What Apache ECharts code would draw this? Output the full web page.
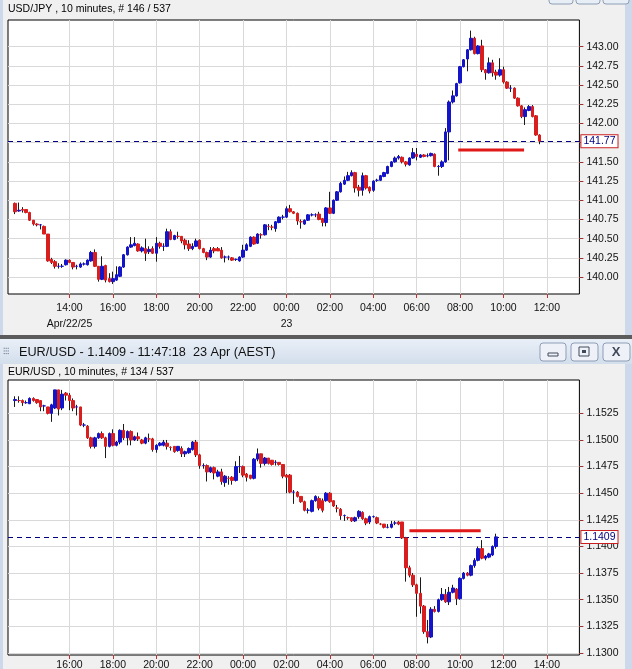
<!DOCTYPE html>
<html><head><meta charset="utf-8">
<script src="https://cdn.jsdelivr.net/npm/echarts@6/dist/echarts.min.js"></script>
<style>html,body{margin:0;padding:0;background:#f0f0f0;overflow:hidden}#c{width:632px;height:669px}</style>
</head><body><div id="c"></div>
<script>
// ---------- DATA ----------
// slot index k = 10-minute steps from 14:00 Apr 22 (USD/JPY) ; from 16:00 Apr 22 (EUR/USD)
var usdjpyFirstSlot = -15;
// [open, close, low, high]
var usdjpyOHLC = [
[140.96,140.85,140.82,140.97],[140.86,140.87,140.85,140.97],[140.88,140.87,140.84,140.91],[140.88,140.84,140.83,140.88],
[140.84,140.74,140.73,140.85],[140.74,140.69,140.67,140.74],[140.69,140.68,140.66,140.70],[140.68,140.68,140.62,140.69],
[140.66,140.56,140.56,140.67],[140.56,140.21,140.20,140.56],[140.23,140.19,140.17,140.25],[140.20,140.14,140.11,140.22],
[140.14,140.14,140.11,140.18],[140.14,140.14,140.12,140.17],[140.16,140.22,140.15,140.23],[140.22,140.19,140.18,140.23],
[140.19,140.13,140.10,140.19],[140.14,140.14,140.10,140.16],[140.13,140.17,140.12,140.19],[140.17,140.17,140.15,140.19],
[140.16,140.22,140.15,140.23],[140.21,140.32,140.20,140.34],[140.32,140.14,140.13,140.36],[140.14,139.97,139.94,140.14],
[139.97,140.14,139.96,140.27],[140.15,139.96,139.93,140.16],[139.98,139.94,139.93,140.05],[139.94,139.98,139.91,140.07],
[139.96,140.03,139.95,140.14],[140.01,140.13,140.00,140.14],[140.13,140.29,140.12,140.30],[140.29,140.39,140.28,140.40],
[140.39,140.42,140.38,140.52],[140.41,140.44,140.40,140.52],[140.43,140.34,140.33,140.44],[140.34,140.38,140.32,140.40],
[140.37,140.31,140.21,140.50],[140.33,140.36,140.30,140.40],[140.37,140.31,140.30,140.40],[140.31,140.44,140.20,140.52],
[140.44,140.40,140.37,140.46],[140.40,140.40,140.34,140.44],[140.40,140.59,140.39,140.63],[140.59,140.49,140.48,140.62],
[140.49,140.54,140.48,140.55],[140.53,140.53,140.50,140.59],[140.53,140.47,140.44,140.53],[140.48,140.42,140.36,140.50],
[140.43,140.37,140.34,140.48],[140.37,140.40,140.35,140.44],[140.40,140.47,140.39,140.50],[140.48,140.37,140.36,140.49],
[140.37,140.32,140.31,140.38],[140.32,140.26,140.22,140.33],[140.26,140.35,140.25,140.39],[140.37,140.34,140.31,140.39],
[140.37,140.34,140.34,140.39],[140.35,140.25,140.24,140.39],[140.26,140.26,140.19,140.28],[140.26,140.26,140.22,140.28],
[140.25,140.22,140.21,140.26],[140.23,140.23,140.21,140.24],[140.21,140.26,140.20,140.27],[140.26,140.35,140.25,140.42],
[140.35,140.42,140.34,140.44],[140.40,140.52,140.39,140.53],[140.52,140.43,140.42,140.53],[140.44,140.56,140.43,140.57],
[140.55,140.55,140.50,140.57],[140.55,140.68,140.54,140.69],[140.66,140.66,140.61,140.69],[140.65,140.65,140.61,140.68],
[140.63,140.72,140.59,140.73],[140.71,140.78,140.70,140.79],[140.78,140.78,140.75,140.81],[140.78,140.89,140.77,140.92],
[140.89,140.85,140.84,140.94],[140.85,140.83,140.82,140.86],[140.83,140.73,140.68,140.84],[140.72,140.72,140.63,140.75],
[140.69,140.74,140.68,140.75],[140.74,140.81,140.73,140.82],[140.81,140.81,140.79,140.83],[140.81,140.81,140.78,140.83],
[140.82,140.75,140.74,140.85],[140.76,140.71,140.66,140.77],[140.71,140.90,140.66,140.91],[140.90,140.83,140.82,141.11],
[140.83,141.00,140.82,141.01],[141.00,141.11,140.99,141.12],[141.11,141.22,141.10,141.24],[141.21,141.26,141.20,141.31],
[141.26,141.32,141.25,141.37],[141.32,141.36,141.31,141.39],[141.36,141.16,141.10,141.37],[141.17,141.13,141.05,141.20],
[141.13,141.32,141.06,141.36],[141.32,141.16,141.14,141.33],[141.17,141.12,141.09,141.18],[141.13,141.25,141.11,141.26],
[141.26,141.26,141.24,141.28],[141.26,141.32,141.25,141.33],[141.31,141.36,141.30,141.37],[141.35,141.44,141.34,141.45],
[141.44,141.50,141.43,141.51],[141.50,141.55,141.49,141.57],[141.55,141.57,141.53,141.59],[141.56,141.50,141.48,141.57],
[141.50,141.47,141.44,141.51],[141.46,141.55,141.45,141.56],[141.55,141.62,141.54,141.68],[141.60,141.57,141.52,141.68],
[141.56,141.59,141.55,141.60],[141.59,141.57,141.56,141.60],[141.58,141.58,141.56,141.61],[141.58,141.61,141.57,141.62],
[141.60,141.44,141.43,141.61],[141.44,141.44,141.32,141.46],[141.44,141.50,141.42,141.52],[141.50,141.89,141.49,141.94],
[141.89,142.28,141.52,142.30],[142.28,142.36,142.26,142.43],[142.36,142.52,142.35,142.53],[142.53,142.74,142.52,142.75],
[142.74,142.83,142.73,142.84],[142.84,142.96,142.68,142.97],[142.96,143.11,142.95,143.21],[143.11,142.91,142.90,143.13],
[142.91,143.01,142.90,143.02],[143.01,142.70,142.67,143.09],[142.70,142.66,142.57,142.71],[142.66,142.79,142.65,142.86],
[142.79,142.66,142.61,142.83],[142.67,142.63,142.57,142.70],[142.63,142.70,142.61,142.85],[142.70,142.54,142.52,142.74],
[142.54,142.46,142.45,142.55],[142.46,142.46,142.41,142.50],[142.46,142.33,142.32,142.47],[142.33,142.23,142.22,142.34],
[142.23,142.09,142.07,142.24],[142.09,142.18,141.98,142.21],[142.17,142.22,142.16,142.24],[142.22,142.09,142.08,142.24],
[142.10,141.85,141.84,142.11],[141.85,141.77,141.73,141.86]
];
var eurusdFirstSlot = -15;
var eurusdOHLC = [
[1.1537,1.1538,1.1531,1.1541],[1.1537,1.1537,1.1535,1.1541],[1.1537,1.1535,1.1532,1.1538],[1.1535,1.1535,1.1534,1.1537],
[1.1534,1.1539,1.1534,1.1540],[1.1539,1.1537,1.1536,1.1540],[1.1538,1.1535,1.1534,1.1538],[1.1537,1.1531,1.1527,1.1537],
[1.1532,1.1532,1.1527,1.1533],[1.1531,1.1525,1.1524,1.1531],[1.1525,1.1533,1.1517,1.1534],[1.1530,1.1547,1.1529,1.1547],
[1.1547,1.1529,1.1523,1.1547],[1.1530,1.1543,1.1528,1.1547],[1.1544,1.1542,1.1537,1.1545],[1.1542,1.1537,1.1528,1.1544],
[1.1537,1.1530,1.1527,1.1539],[1.1531,1.1531,1.1523,1.1533],[1.1531,1.1514,1.1513,1.1531],[1.1514,1.1514,1.1512,1.1516],
[1.1513,1.1502,1.1501,1.1514],[1.1502,1.1494,1.1492,1.1503],[1.1494,1.1502,1.1492,1.1503],[1.1502,1.1506,1.1501,1.1507],
[1.1506,1.1502,1.1501,1.1508],[1.1502,1.1494,1.1483,1.1503],[1.1494,1.1506,1.1493,1.1507],[1.1506,1.1495,1.1494,1.1510],
[1.1495,1.1498,1.1494,1.1499],[1.1498,1.1509,1.1496,1.1510],[1.1509,1.1502,1.1500,1.1515],[1.1502,1.1508,1.1495,1.1509],
[1.1508,1.1500,1.1495,1.1509],[1.1500,1.1503,1.1499,1.1504],[1.1503,1.1501,1.1499,1.1507],[1.1500,1.1497,1.1496,1.1501],
[1.1497,1.1502,1.1496,1.1503],[1.1501,1.1501,1.1498,1.1506],[1.1501,1.1491,1.1489,1.1502],[1.1491,1.1495,1.1488,1.1496],
[1.1495,1.1497,1.1494,1.1498],[1.1495,1.1498,1.1494,1.1500],[1.1497,1.1494,1.1491,1.1500],[1.1493,1.1493,1.1490,1.1494],
[1.1494,1.1489,1.1488,1.1494],[1.1490,1.1494,1.1489,1.1494],[1.1492,1.1487,1.1484,1.1494],[1.1487,1.1489,1.1484,1.1490],
[1.1488,1.1492,1.1487,1.1493],[1.1491,1.1498,1.1490,1.1499],[1.1498,1.1486,1.1484,1.1500],[1.1486,1.1476,1.1473,1.1487],
[1.1476,1.1476,1.1473,1.1478],[1.1476,1.1470,1.1461,1.1477],[1.1470,1.1474,1.1469,1.1475],[1.1474,1.1469,1.1463,1.1475],
[1.1466,1.1470,1.1465,1.1472],[1.1470,1.1461,1.1458,1.1473],[1.1460,1.1466,1.1456,1.1467],[1.1464,1.1464,1.1458,1.1466],
[1.1465,1.1462,1.1458,1.1466],[1.1462,1.1475,1.1461,1.1480],[1.1475,1.1475,1.1469,1.1485],[1.1475,1.1467,1.1465,1.1476],
[1.1468,1.1465,1.1461,1.1469],[1.1467,1.1464,1.1463,1.1467],[1.1464,1.1482,1.1463,1.1483],[1.1482,1.1487,1.1480,1.1492],
[1.1487,1.1478,1.1474,1.1487],[1.1478,1.1483,1.1476,1.1484],[1.1483,1.1478,1.1477,1.1483],[1.1481,1.1477,1.1476,1.1481],
[1.1479,1.1479,1.1476,1.1481],[1.1479,1.1477,1.1476,1.1479],[1.1477,1.1466,1.1464,1.1477],[1.1467,1.1465,1.1450,1.1468],
[1.1467,1.1451,1.1450,1.1468],[1.1451,1.1451,1.1440,1.1453],[1.1451,1.1447,1.1446,1.1452],[1.1447,1.1442,1.1441,1.1447],
[1.1442,1.1434,1.1433,1.1443],[1.1434,1.1434,1.1431,1.1436],[1.1433,1.1443,1.1432,1.1444],[1.1443,1.1447,1.1442,1.1448],
[1.1445,1.1436,1.1434,1.1447],[1.1443,1.1434,1.1432,1.1445],[1.1443,1.1450,1.1442,1.1451],[1.1450,1.1442,1.1441,1.1451],
[1.1443,1.1438,1.1437,1.1443],[1.1436,1.1436,1.1432,1.1439],[1.1435,1.1429,1.1425,1.1436],[1.1429,1.1429,1.1424,1.1430],
[1.1427,1.1427,1.1425,1.1428],[1.1427,1.1424,1.1423,1.1427],[1.1424,1.1427,1.1423,1.1428],[1.1428,1.1433,1.1426,1.1434],
[1.1432,1.1426,1.1425,1.1433],[1.1426,1.1422,1.1420,1.1427],[1.1423,1.1428,1.1421,1.1429],[1.1428,1.1428,1.1427,1.1429],
[1.1427,1.1422,1.1421,1.1428],[1.1421,1.1421,1.1420,1.1422],[1.1421,1.1418,1.1417,1.1421],[1.1418,1.1418,1.1417,1.1421],
[1.1418,1.1421,1.1417,1.1424],[1.1422,1.1422,1.1420,1.1424],[1.1423,1.1421,1.1420,1.1424],[1.1423,1.1408,1.1407,1.1423],
[1.1408,1.1380,1.1367,1.1409],[1.1380,1.1373,1.1371,1.1382],[1.1373,1.1364,1.1362,1.1375],[1.1364,1.1356,1.1334,1.1365],
[1.1356,1.1344,1.1337,1.1371],[1.1344,1.1320,1.1318,1.1345],[1.1320,1.1315,1.1309,1.1331],[1.1315,1.1341,1.1314,1.1343],
[1.1341,1.1339,1.1338,1.1344],[1.1339,1.1350,1.1338,1.1351],[1.1350,1.1355,1.1349,1.1361],[1.1355,1.1348,1.1347,1.1360],
[1.1348,1.1357,1.1345,1.1362],[1.1357,1.1361,1.1356,1.1364],[1.1360,1.1351,1.1345,1.1361],[1.1351,1.1370,1.1350,1.1371],
[1.1370,1.1375,1.1369,1.1376],[1.1375,1.1373,1.1372,1.1376],[1.1373,1.1382,1.1372,1.1383],[1.1382,1.1387,1.1380,1.1389],
[1.1387,1.1398,1.1386,1.1400],[1.1398,1.1389,1.1388,1.1406],[1.1389,1.1391,1.1387,1.1392],[1.1390,1.1393,1.1389,1.1394],
[1.1392,1.1400,1.1391,1.1401],[1.1400,1.1409,1.1398,1.1412]
];
// tick labels
var usdjpyTicks = [140.00,140.25,140.50,140.75,141.00,141.25,141.50,141.75,142.00,142.25,142.50,142.75,143.00];
var eurusdTicks = [1.1300,1.1325,1.1350,1.1375,1.1400,1.1425,1.1450,1.1475,1.1500,1.1525];
var topTimeLabels = ['14:00','16:00','18:00','20:00','22:00','00:00','02:00','04:00','06:00','08:00','10:00','12:00'];
var topDateLabels = {'14:00':'Apr/22/25','00:00':'23'};
var bottomTimeLabels = ['16:00','18:00','20:00','22:00','00:00','02:00','04:00','06:00','08:00','10:00','12:00','14:00'];
// hand-drawn red annotation segments [slot, price]
var usdjpyMarkLine = [[107.5,141.655],[125.7,141.655]];
var eurusdMarkLine = [[94.0,1.14147],[113.7,1.14147]];
var titleTop = 'USD/JPY , 10 minutes, # 146 / 537';
var windowTitle = 'EUR/USD - 1.1409 - 11:47:18  23 Apr (AEST)';
var titleBottom = 'EUR/USD , 10 minutes, # 134 / 537';

// ---------- BUILD ----------
var UP = '#1414c8', DOWN = '#d81e1e', WICK = '#1a1a1a';
function rows(first, ohlc){ return ohlc.map(function(d,i){ return [first+i, d[0], d[1], d[2], d[3]]; }); }
function bodies(first, ohlc){ return ohlc.map(function(d,i){ var lo=Math.min(d[0],d[1]), hi=Math.max(d[0],d[1]); return [first+i, d[0], d[1], lo, hi]; }); }
var slotTicks = topTimeLabels.map(function(_,i){ return i*12; });

var FONT = '"Liberation Sans", Arial, sans-serif';
var LBL = 10.5;
function xAxisCfg(gi, labels, dates, margin){
  return {
    type:'value', gridIndex:gi, min:-17, max:141, position:'bottom',
    axisLine:{show:false, onZero:false},
    axisTick:{show:true, customValues:slotTicks, length:4, lineStyle:{color:'#c03030'}},
    splitLine:{show:true, lineStyle:{color:'#d9d9d9', width:1}},
    axisLabel:{customValues:slotTicks, margin:margin, color:'#111', fontSize:LBL, fontFamily:FONT, lineHeight:16,
      formatter:function(v){ var t=labels[Math.round(v/12)]; if(dates && dates[t]) return t+'\n'+dates[t]; return t; }}
  };
}
function yAxisCfg(gi, ticks, mn, mx, dec){
  return {
    type:'value', gridIndex:gi, position:'right', min:mn, max:mx, scale:true,
    axisLine:{show:false, onZero:false},
    axisTick:{show:true, customValues:ticks, length:4, lineStyle:{color:'#a03030'}},
    splitLine:{show:true, lineStyle:{color:'#d9d9d9', width:1}},
    axisLabel:{customValues:ticks, margin:7, color:'#111', fontSize:LBL, fontFamily:FONT,
      formatter:function(v){ return v.toFixed(dec); }}
  };
}
function candleSeries(gi, first, ohlc, lastDec){
  var last = ohlc[ohlc.length-1][1];
  return [
    {type:'candlestick', xAxisIndex:gi, yAxisIndex:gi, data:rows(first, ohlc), encode:{x:0,y:[1,2,3,4]},
     barWidth:1, itemStyle:{color:WICK, color0:WICK, borderColor:WICK, borderColor0:WICK, borderWidth:1}, z:2},
    {type:'candlestick', xAxisIndex:gi, yAxisIndex:gi, data:bodies(first, ohlc), encode:{x:0,y:[1,2,3,4]},
     barWidth:3, itemStyle:{color:UP, color0:DOWN, borderColor:UP, borderColor0:DOWN, borderWidth:1}, z:3,
     markLine:{symbol:'none', silent:true, animation:false, z:1, precision:6,
       lineStyle:{type:[5,4], color:'#000080', width:1},
       label:{position:'end', distance:2, formatter:last.toFixed(lastDec), color:'#000080', fontSize:LBL, fontFamily:FONT,
         backgroundColor:'#fff', borderColor:'#c82020', borderWidth:1, padding:[1,2,0,2]},
       data:[{yAxis:last}]}}
  ];
}
function annot(gi, pts){
  return {type:'line', xAxisIndex:gi, yAxisIndex:gi, data:pts, symbol:'none', silent:true,
    lineStyle:{color:'#e01818', width:3}, z:5};
}

var chart = echarts.init(document.getElementById('c'), null, {renderer:'canvas'});
var W = 632, H = 669;
chart.setOption({
  animation:false,
  backgroundColor:'#f0f0f0',
  grid:[
    {left:8, top:20, width:571.4, height:274, show:true, backgroundColor:'#fff', borderColor:'#000', borderWidth:1, containLabel:false, outerBoundsMode:'none'},
    {left:8, top:380, width:571.4, height:275, show:true, backgroundColor:'#fff', borderColor:'#000', borderWidth:1, containLabel:false, outerBoundsMode:'none'}
  ],
  xAxis:[ xAxisCfg(0, topTimeLabels, topDateLabels, 6), xAxisCfg(1, bottomTimeLabels, null, 2) ],
  yAxis:[ yAxisCfg(0, usdjpyTicks, 139.779, 143.348, 2), yAxisCfg(1, eurusdTicks, 1.12981, 1.15563, 4) ],
  series: [].concat(
    candleSeries(0, usdjpyFirstSlot, usdjpyOHLC, 2),
    candleSeries(1, eurusdFirstSlot, eurusdOHLC, 4),
    [annot(0, usdjpyMarkLine), annot(1, eurusdMarkLine)]
  ),
  graphic:[
    {type:'rect', z:-10, shape:{x:0,y:0,width:3,height:H}, style:{fill:'#cdd9ea'}},
    {type:'rect', z:-10, shape:{x:625,y:0,width:7,height:H}, style:{fill:'#cdd9ea'}},
    // partial window buttons at very top
    {type:'rect', z:-5, shape:{x:549,y:-12,width:24,height:16,r:3}, style:{fill:'#e8eef6', stroke:'#8d9db5'}},
    {type:'rect', z:-5, shape:{x:576,y:-12,width:24,height:16,r:3}, style:{fill:'#e8eef6', stroke:'#8d9db5'}},
    {type:'rect', z:-5, shape:{x:603,y:-12,width:26,height:16,r:3}, style:{fill:'#e8eef6', stroke:'#8d9db5'}},
    {type:'text', z:10, style:{text:titleTop, x:8, y:9, fill:'#000', font:LBL+'px '+FONT, verticalAlign:'middle'}},
    // separator + title bar
    {type:'rect', z:-5, shape:{x:0,y:335,width:W,height:4}, style:{fill:'#5c5c5c'}},
    {type:'rect', z:-5, shape:{x:0,y:339,width:W,height:25}, style:{fill:new echarts.graphic.LinearGradient(0,0,0,1,[{offset:0,color:'#e9eff7'},{offset:1,color:'#d3deec'}])}},
    {type:'text', z:10, style:{text:'⁝⁝⁝', x:3, y:352, fill:'#6a7a90', font:'9px '+FONT, verticalAlign:'middle'}},
    {type:'text', z:10, style:{text:windowTitle, x:19, y:352, fill:'#111', font:'12.7px '+FONT, verticalAlign:'middle'}},
    {type:'rect', z:-4, shape:{x:540,y:343,width:26,height:18,r:3}, style:{fill:'#eef2f8', stroke:'#8d9db5'}},
    {type:'rect', z:-4, shape:{x:571,y:343,width:27,height:18,r:3}, style:{fill:'#eef2f8', stroke:'#8d9db5'}},
    {type:'rect', z:-4, shape:{x:603,y:343,width:27,height:18,r:3}, style:{fill:'#eef2f8', stroke:'#8d9db5'}},
    {type:'rect', z:-3, shape:{x:548,y:353,width:10,height:3}, style:{fill:'none', stroke:'#404a5a', lineWidth:1}},
    {type:'rect', z:-3, shape:{x:579,y:347,width:10,height:9}, style:{fill:'none', stroke:'#404a5a', lineWidth:1}},
    {type:'rect', z:-3, shape:{x:582,y:350,width:4,height:3}, style:{fill:'#404a5a'}},
    {type:'text', z:-3, style:{text:'X', x:616, y:352, fill:'#404a5a', font:'bold 13px '+FONT, align:'center', verticalAlign:'middle'}},
    {type:'text', z:10, style:{text:titleBottom, x:8, y:372, fill:'#000', font:LBL+'px '+FONT, verticalAlign:'middle'}}
  ]
});
</script></body></html>
